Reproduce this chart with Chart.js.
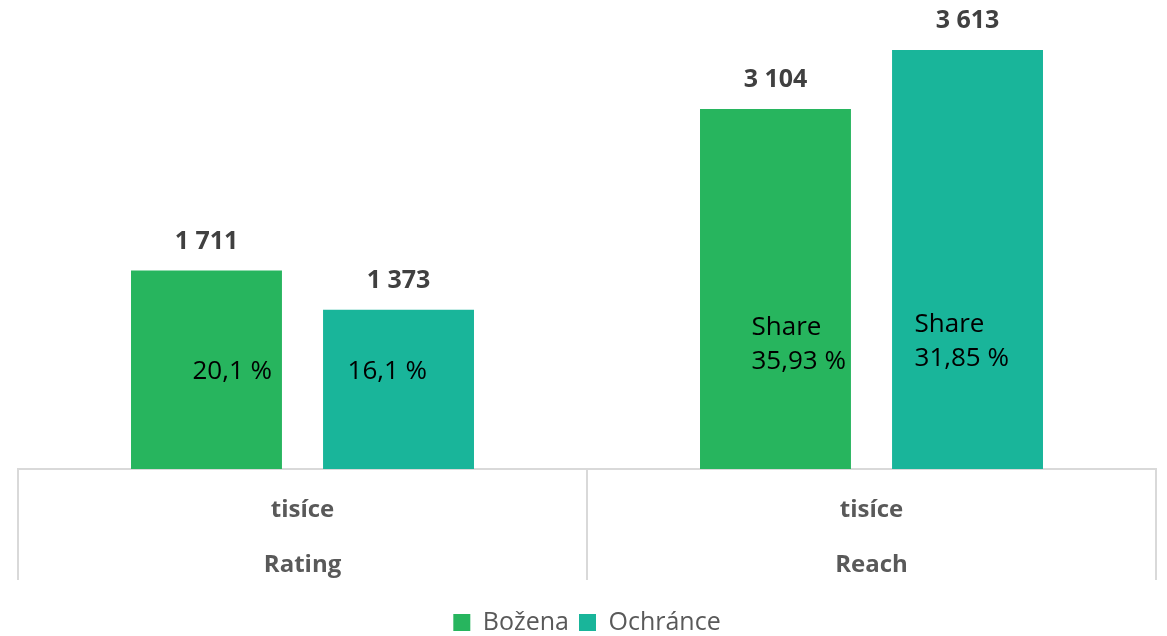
<!DOCTYPE html>
<html>
<head>
<meta charset="utf-8">
<script src="https://cdn.jsdelivr.net/npm/chart.js@4/dist/chart.umd.min.js"></script>
<style>
  html, body { margin: 0; padding: 0; background: #fff; }
  #wrap { width: 1167px; height: 636px; }
</style>
</head>
<body>
<div id="wrap"><canvas id="chart" width="1167" height="636"></canvas></div>
<script>
const categories = [["tisíce", "Rating"], ["tisíce", "Reach"]];
const seriesNames = ["Božena", "Ochránce"];
const bozenaValues = [1711, 3104];
const ochranceValues = [1373, 3613];
const valueLabels = [["1 711", "3 104"], ["1 373", "3 613"]];
const innerLabels = [[["20,1 %"], ["Share", "35,93 %"]], [["16,1 %"], ["Share", "31,85 %"]]];

// where the inner text sits, relative to bar centre (x) and bar base (y)
const innerOffsets = [[{dx: -14, dy: -97}, {dx: -24, dy: -141}], [{dx: -51, dy: -97}, {dx: -53, dy: -144}]];

const colors = ["#27b55e", "#19b59a"];
const fontFamily = "'Open Sans', sans-serif";

const labelPlugin = {
    id: "barLabels",
    afterDatasetsDraw(chart) {
        const ctx = chart.ctx;
        ctx.save();
        chart.data.datasets.forEach((ds, di) => {
            const meta = chart.getDatasetMeta(di);
            meta.data.forEach((bar, i) => {
                // value above the bar
                ctx.font = "bold 25px " + fontFamily;
                ctx.fillStyle = "#404040";
                ctx.textAlign = "center";
                ctx.textBaseline = "middle";
                ctx.fillText(valueLabels[di][i], bar.x, bar.y - 29);

                // share text inside the bar
                const off = innerOffsets[di][i];
                const lines = innerLabels[di][i];
                ctx.font = "26px " + fontFamily;
                ctx.fillStyle = "#000";
                ctx.textAlign = "left";
                lines.forEach((t, li) => {
                    ctx.fillText(t, bar.x + off.dx, bar.base + off.dy + li * 34);
                });
            });
        });
        ctx.restore();
    }
};

// category separators below the baseline (like the excel table-style axis)
const separatorPlugin = {
    id: "separators",
    afterDraw(chart) {
        const x = chart.scales.x;
        const ctx = chart.ctx;
        ctx.save();
        ctx.strokeStyle = "#d9d9d9";
        ctx.lineWidth = 2;
        for (let i = 0; i <= categories.length; i++) {
            const px = Math.round(x.getPixelForValue(i - 0.5));
            ctx.beginPath();
            ctx.moveTo(px, x.top);
            ctx.lineTo(px, x.top + 111);
            ctx.stroke();
        }
        ctx.restore();
    }
};

new Chart(document.getElementById("chart"), {
    type: "bar",
    data: {
        labels: categories,
        datasets: [
            { label: seriesNames[0], data: bozenaValues, backgroundColor: colors[0] },
            { label: seriesNames[1], data: ochranceValues, backgroundColor: colors[1] }
        ]
    },
    options: {
        responsive: false,
        animation: false,
        events: [],
        categoryPercentage: 0.675,
        barPercentage: 0.786,
        layout: { padding: { left: 18, right: 11, top: 5, bottom: -9 } },
        plugins: {
            tooltip: { enabled: false },
            legend: {
                position: "bottom",
                labels: {
                    boxWidth: 17,
                    boxHeight: 17,
                    padding: 10,
                    color: "#595959",
                    font: { family: fontFamily, size: 25 }
                }
            }
        },
        scales: {
            x: {
                afterFit: (scale) => { scale.height = 131; },
                grid: { display: false, drawTicks: false },
                border: { color: "#d9d9d9", width: 2 },
                ticks: {
                    padding: 14,
                    autoSkip: false,
                    color: "#595959",
                    maxRotation: 0,
                    font: { family: fontFamily, size: 24, weight: "bold", lineHeight: 55 / 24 }
                }
            },
            y: {
                display: false,
                min: 0,
                max: 4000
            }
        }
    },
    plugins: [labelPlugin, separatorPlugin]
});
</script>
</body>
</html>
